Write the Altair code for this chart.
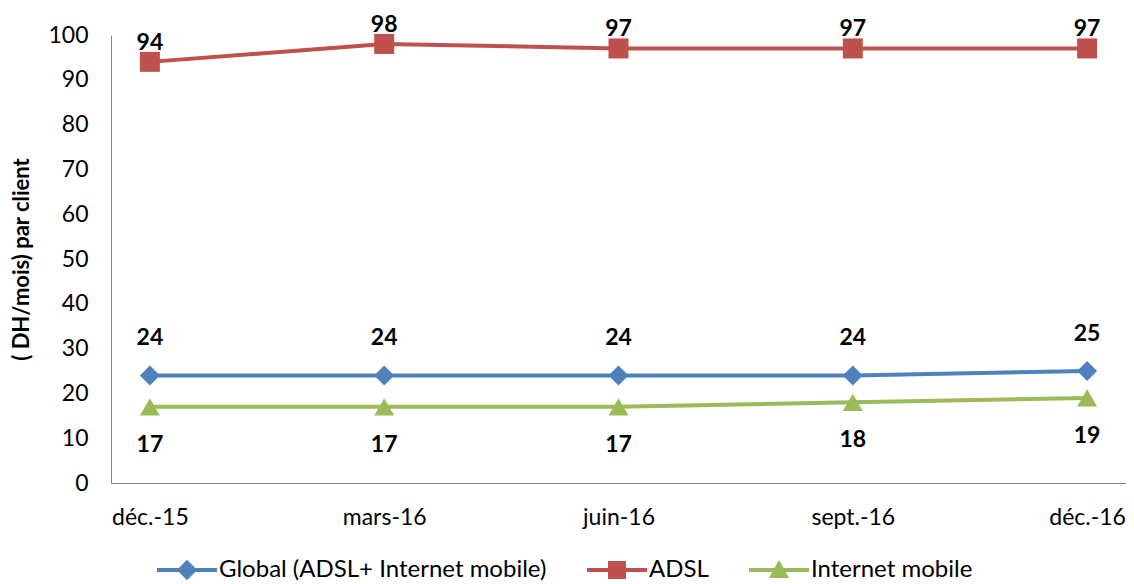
import altair as alt
import pandas as pd

categories = ["déc.-15", "mars-16", "juin-16", "sept.-16", "déc.-16"]
series_names = ["Global (ADSL+ Internet mobile)", "ADSL", "Internet mobile"]
global_vals = [24, 24, 24, 24, 25]
adsl_vals = [94, 98, 97, 97, 97]
mobile_vals = [17, 17, 17, 18, 19]
colors = ["#4F81BD", "#C0504D", "#9BBB59"]
shapes = ["diamond", "square", "triangle-up"]
label_dy = [-37, -19, 38]
y_ticks = [0, 10, 20, 30, 40, 50, 60, 70, 80, 90, 100]

rows = []
for name, vals in zip(series_names, [global_vals, adsl_vals, mobile_vals]):
    for c, v in zip(categories, vals):
        rows.append({"periode": c, "serie": name, "valeur": v})
df = pd.DataFrame(rows)

FONT = "Lato"

# legend symbols: line + marker, in Vega's [-1,1] custom-path space
p_global = "M-1,-0.067H1V0.067H-1Z M0,-0.34L0.34,0L0,0.34L-0.34,0Z"
p_adsl = "M-1,-0.067H1V0.067H-1Z M-0.3,-0.3H0.3V0.3H-0.3Z"
p_mobile = "M-1,-0.067H1V0.067H-1Z M0,-0.33L0.34,0.27L-0.34,0.27Z"
legend_paths = [p_global, p_adsl, p_mobile]

x_enc = alt.X(
    "periode:N",
    sort=categories,
    scale=alt.Scale(type="point", padding=0.166),
    axis=alt.Axis(
        title=None, labelAngle=0, ticks=False, labelPadding=23,
        labelFontSize=23, labelFont=FONT, labelColor="black",
        domainColor="#868686", domainWidth=1, grid=False,
    ),
)
y_enc = alt.Y(
    "valeur:Q",
    scale=alt.Scale(domain=[0, 100], nice=False, zero=True),
    axis=alt.Axis(
        title="( DH/mois) par client", values=y_ticks, ticks=False,
        labelPadding=23, labelFontSize=23, labelFont=FONT, labelColor="black",
        titleFont=FONT, titleFontSize=22, titleFontWeight="bold",
        titleColor="black", titlePadding=14,
        domainColor="#868686", domainWidth=1, grid=False,
    ),
)

base = alt.Chart(df)
layers = []
for name, col, shp, dy in zip(series_names, colors, shapes, label_dy):
    sub = base.transform_filter(alt.datum.serie == name)
    layers.append(sub.mark_line(strokeWidth=4, color=col).encode(x=x_enc, y=y_enc))
for name, col, shp, dy in zip(series_names, colors, shapes, label_dy):
    sub = base.transform_filter(alt.datum.serie == name)
    layers.append(
        sub.mark_point(filled=True, size=400, opacity=1, shape=shp, color=col)
        .encode(x=x_enc, y=y_enc)
    )
    layers.append(
        sub.mark_text(
            font=FONT, fontSize=23, fontWeight="bold", color="black",
            baseline="middle", align="center", dy=dy,
        ).encode(x=x_enc, y=y_enc, text=alt.Text("valeur:Q"))
    )

leg = alt.Legend(
    title=None, orient="none", direction="horizontal",
    legendX=46, legendY=505,
    symbolSize=3600, symbolOpacity=1, symbolStrokeWidth=0,
    labelFontSize=24, labelFont=FONT, labelColor="black", labelLimit=0,
    columnPadding=40, labelOffset=2,
)
legend_layer = base.mark_point(filled=True, opacity=0, size=10).encode(
    x=x_enc,
    y=y_enc,
    color=alt.Color(
        "serie:N", sort=series_names,
        scale=alt.Scale(domain=series_names, range=colors), legend=leg,
    ),
    shape=alt.Shape(
        "serie:N", sort=series_names,
        scale=alt.Scale(domain=series_names, range=legend_paths), legend=leg,
    ),
)
layers.append(legend_layer)

chart = (
    alt.layer(*layers)
    .properties(
        width=1015,
        height=448,
        autosize=alt.AutoSizeParams(type="none"),
        padding={"left": 103, "top": 27, "right": 0, "bottom": 100},
        background="white",
    )
    .configure_view(stroke=None)
)

chart.save("out.html", embed_options={"renderer": "svg", "actions": False})
